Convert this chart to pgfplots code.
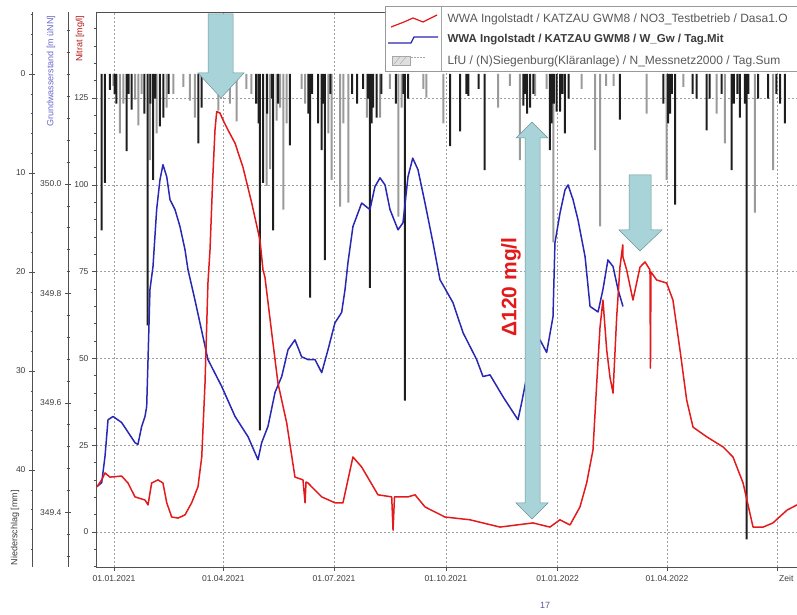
\documentclass[border=0pt]{standalone}
\usepackage{pgfplots}
\pgfplotsset{compat=1.18}
\usepackage{fontspec}
\setmainfont{Liberation Sans}
\definecolor{nred}{HTML}{E31A1C}
\definecolor{gwblue}{HTML}{2828B4}
\definecolor{arrowfill}{HTML}{A8D3D8}
\definecolor{arrowdraw}{HTML}{6F9499}
\definecolor{axgray}{HTML}{505050}
\definecolor{txtgray}{HTML}{3C3C3C}
\definecolor{bardark}{HTML}{1E1E1E}
\definecolor{barlight}{HTML}{9A9A9A}

\pgfplotsset{
  base/.style={scale only axis, width=702pt, height=555pt, at={(96pt,48pt)}, anchor=south west,
    xmin=-14.8, xmax=562.8},
  tickfont/.style={font=\fontsize{8.5}{10}\selectfont, text=txtgray},
}

\begin{document}
\begin{tikzpicture}[x=1pt,y=1pt]
\useasboundingbox (0,0) rectangle (797,615);

% ---------- main frame, grid, nitrate axis ----------
\begin{axis}[base, ymin=-10.1, ymax=149.8,
  axis x line*=box, axis y line*=left,
  axis line style={axgray, line width=0.6pt},
  xtick={0,90,181,273,365,455,546},
  xticklabels={01.01.2021,01.04.2021,01.07.2021,01.10.2021,01.01.2022,01.04.2022,{}},
  xtick pos=bottom, ytick pos=left,
  ytick={0,25,...,125}, minor ytick={-10,-5,...,145},
  tick align=outside, major tick length=4pt, minor tick length=2.5pt,
  tick style={axgray, line width=0.5pt},
  grid=major, major grid style={gray!75, line width=0.5pt, dash pattern=on 2pt off 2pt},
  xticklabel style={tickfont, yshift=-1pt},
  yticklabel style={tickfont, /pgf/number format/assume math mode=true},
]
\end{axis}

% ---------- precipitation bars ----------
\begin{axis}[base, ymin=-6.26, ymax=49.8, y dir=reverse, axis lines=none, ybar, bar width=2pt]
\addplot[draw=none, fill=barlight, bar shift=0pt] table {
-0.6 1.2
4.9 6
7.7 3
17.3 2.6
20 5.2
22.8 2
29.6 8.7
35.1 6
43.4 3.4
48.8 2
57 1.3
62.5 2.7
66.6 4.4
85.8 3.7
95.4 3
101 4.8
109 1.5
113 2
125.6 11.3
128.4 9.6
133.9 4.7
136.6 3.4
139.3 13.7
142 5
154.4 1.5
157.2 3
176.3 6
179.1 10.7
186 13.4
188.7 5
192.8 13
208 4.4
218.9 4.4
227 1.5
234 14.4
236.7 3.4
254.5 1.5
257 2.4
271 5
316 3.4
325.8 1.2
334 8.7
346.4 2.2
356 1.5
361.5 17
384.8 1.5
395.8 7.7
399.9 15.4
405 1.2
411 1.2
438.3 4
454.7 10.7
468.4 1.3
495.9 4
502.7 7
527.4 14
542.4 9.7
};
\addplot[draw=none, fill=bardark, bar shift=0pt] table {
-10.1 15.8
-7.4 11
-3.3 1.6
0.5 2
2 3
10.4 7.8
12 2
14.6 3.6
25 4
27.7 25.4
30 3
32.3 10.7
34 2.5
37.8 5.3
40.6 4.4
45 2
69.4 7
72.2 3.4
117 3
119 5
120 36
122.8 11
126 4
130 2.5
131 15.8
135 3
144.8 7.2
160 4
161.3 22.6
163 2
168 5
170.9 7.7
172 3
173.6 18.8
178 2
196 2
200 3
205 1.5
209 2.5
210.6 21.6
212 5
213.3 3.4
216 4.4
220 2
232 3
238 2
239.4 33
242 2.5
276.5 7.3
284.7 5.8
290 2
291.5 2.2
300 1.5
305 9.7
336.8 3.2
338 2
340 4
342.3 3.4
345 2
358.7 7.7
360 5
362 3
364.2 3.8
367 3.8
369 2
371 6
374 2.5
416.3 4.6
452 3
456 5
457.5 4
459 2
461.6 13.2
476 2
479.4 2.5
487.6 5.7
490 2.5
500 2
508.2 9.7
510 3
513 2
515 4.4
519 3
520.6 47
522 2
530 2.5
538.3 2.5
545 2
548 3
552 5
};
\end{axis}

% ---------- groundwater level ----------
\begin{axis}[base, ymin=349.300, ymax=350.314, axis lines=none]
\addplot[gwblue, line width=1.5pt, line join=round] table {
-14 349.447
-10.1 349.454
-7.4 349.502
-4.9 349.569
-0.8 349.575
6.3 349.564
17.3 349.527
19.7 349.524
22.8 349.557
25.5 349.575
26.9 349.593
28.0 349.679
29.6 349.807
32.1 349.849
35.1 349.953
37.8 350.007
40.3 350.035
43.4 350.013
46.1 349.971
50.2 349.953
54.3 349.922
58.4 349.880
60.9 349.843
66.6 349.788
77.3 349.679
88.6 349.630
99.6 349.575
110.3 349.538
118.5 349.496
121.5 349.527
126.7 349.557
132.5 349.619
138.0 349.648
143.2 349.697
148.9 349.715
154.4 349.684
159.6 349.679
165.4 349.679
170.9 349.655
176.1 349.697
181.8 349.746
187.3 349.765
190.1 349.807
192.5 349.856
196.6 349.922
203.8 349.965
210.6 349.953
214.7 349.995
218.9 350.011
223.0 349.998
227.1 349.953
233.7 349.916
237.8 349.929
241.9 350.013
245.8 350.047
250.1 350.026
255.9 349.965
262.5 349.892
268.2 349.825
278.9 349.783
287.2 349.728
298.4 349.679
303.6 349.648
309.4 349.651
320.1 349.611
332.4 349.569
335.4 349.600
339.6 349.648
350.5 349.715
356.0 349.692
361.2 349.757
362.8 349.892
367.0 349.947
371.1 349.989
373.6 349.998
377.7 349.971
381.8 349.934
387.6 349.867
391.7 349.776
398.3 349.766
402.3 349.807
406.4 349.861
410.6 349.849
414.7 349.807
418.8 349.776
};
\end{axis}

% ---------- nitrate ----------
\begin{axis}[base, ymin=-10.1, ymax=149.8, axis lines=none]
\addplot[nred, line width=1.5pt, line join=round] table {
-14.0 13.0
-10.1 15.0
-7.4 17.0
-3.3 15.8
6.3 16.1
11.5 14.1
17.3 10.1
25.5 9.2
28.0 7.8
31.0 14.1
36.2 15.0
40.3 14.1
43.4 8.4
47.5 4.3
52.7 4.0
58.4 4.9
63.9 8.4
69.1 13.0
72.2 21.6
74.9 42.9
77.3 71.7
79.0 81.2
81.2 101.4
83.1 115.8
84.5 121.1
87.2 120.7
89.7 118.7
93.8 115.8
99.6 112.0
106.1 105.1
113.3 94.8
120.1 84.1
122.6 75.5
124.2 73.4
129.8 57.3
134.9 42.9
142.1 31.4
148.9 15.8
155.5 15.0
157.2 8.4
158.0 14.4
159.6 14.1
170.9 10.1
181.8 8.4
188.4 8.4
196.6 21.6
203.8 18.7
217.2 10.7
228.5 10.1
229.6 0.5
230.8 10.1
241.9 10.1
247.7 10.7
255.9 7.2
272.3 4.3
292.9 3.5
317.6 1.4
344.7 2.6
358.7 1.4
366.9 3.5
375.2 2.0
383.4 7.2
388.9 14.1
394.1 23.6
397.2 42.9
399.9 59.0
402.3 66.8
405.4 52.4
408.1 44.6
410.6 40.0
413.6 61.9
416.3 76.3
418.6 82.7
418.8 79.2
421.8 75.5
427.0 66.8
432.8 76.3
436.9 77.8
441.0 75.5
441.4 47.2
441.8 74.9
446.5 72.6
454.7 71.7
459.9 66.8
465.7 52.4
471.2 38.0
476.4 30.2
487.7 27.4
501.1 24.5
509.3 21.6
517.6 14.1
525.8 1.4
534.1 1.4
542.2 2.6
553.8 6.3
562.0 7.8
};
\end{axis}

% ---------- groundwater axis (offset) ----------
\begin{axis}[scale only axis, width=1pt, height=555pt, at={(68pt,48pt)}, anchor=south west,
  xmin=0, xmax=1, ymin=349.300, ymax=350.314,
  axis x line=none, axis y line*=left, axis line style={axgray, line width=0.6pt},
  ytick={349.4,349.6,349.8,350.0}, minor ytick={349.32,349.36,...,350.30},
  tick align=center, major tick length=6pt, minor tick length=3pt,
  tick style={axgray, line width=0.5pt}, scaled y ticks=false,
  yticklabel style={tickfont, /pgf/number format/assume math mode=true,
    /pgf/number format/.cd, fixed, fixed zerofill, precision=1},
]
\end{axis}

% ---------- precipitation axis (offset) ----------
\begin{axis}[scale only axis, width=1pt, height=555pt, at={(32pt,48pt)}, anchor=south west,
  xmin=0, xmax=1, ymin=-6.26, ymax=49.8, y dir=reverse,
  axis x line=none, axis y line*=left, axis line style={axgray, line width=0.6pt},
  ytick={0,10,20,30,40}, minor ytick={-6,-4,...,48},
  tick align=center, major tick length=6pt, minor tick length=3pt,
  tick style={axgray, line width=0.5pt},
  yticklabel style={tickfont, /pgf/number format/assume math mode=true},
]
\end{axis}

% ---------- axis titles ----------
\node[rotate=90, anchor=east, font=\fontsize{9}{10}\selectfont, text=gwblue!70] at (51,603) {Grundwasserstand [m üNN]};
\node[rotate=90, anchor=east, font=\fontsize{9}{10}\selectfont, text=nred!80!black] at (80,603) {Nitrat [mg/l]};
\node[rotate=90, anchor=west, font=\fontsize{9}{10}\selectfont, text=txtgray] at (15,46) {Niederschlag [mm]};
\node[anchor=west, font=\fontsize{8.5}{10}\selectfont, text=txtgray, inner sep=1pt] at (778,37) {Zeit};

% ---------- arrows ----------
\filldraw[fill=arrowfill, draw=arrowdraw, line width=0.5pt]
  (208,601) -- (233,601) -- (233,542) -- (244,542) -- (221,517) -- (198,542) -- (208,542) -- cycle;
\filldraw[fill=arrowfill, draw=arrowdraw, line width=0.5pt]
  (532,493) -- (548,477) -- (540,477) -- (540,112) -- (548,112) -- (532,96) -- (516,112) -- (525,112) -- (525,477) -- (516,477) -- cycle;
\filldraw[fill=arrowfill, draw=arrowdraw, line width=0.5pt]
  (629,440) -- (651,440) -- (651,385) -- (662,385) -- (640,364) -- (619,385) -- (629,385) -- cycle;
\node[rotate=90, font=\bfseries\fontsize{21}{24}\selectfont, text=nred] at (511,328) {Δ120 mg/l};

% ---------- legend ----------
\filldraw[fill=white, draw=gray!80, line width=0.8pt] (385,609) rectangle (800,544);
\draw[gray!70, line width=0.5pt] (441,609) -- (441,544);
\draw[nred, line width=1.2pt, line join=round] (391,588) -- (404,593) -- (413,597) -- (423,593) -- (437,600);
\draw[gwblue, line width=1.3pt] (388,572) -- (411,572) -- (414,578) -- (438,578);
\filldraw[fill=gray!25, draw=gray!70, line width=0.5pt] (392,550) rectangle (410,559);
\draw[gray!70, line width=0.4pt] (394,551) -- (400,558) (400,551) -- (406,558);
\draw[gray!70, line width=0.8pt, dash pattern=on 2pt off 1pt] (411,558) -- (426,558);
\node[anchor=west, font=\fontsize{12}{14}\selectfont, text=txtgray!85] at (444,596) {WWA Ingolstadt / KATZAU GWM8 / NO3\_Testbetrieb / Dasa1.O};
\node[anchor=west, font=\bfseries\fontsize{11.5}{14}\selectfont, text=txtgray] at (444,575) {WWA Ingolstadt / KATZAU GWM8 / W\_Gw / Tag.Mit};
\node[anchor=west, font=\fontsize{12}{14}\selectfont, text=txtgray!85] at (444,554) {LfU / (N)Siegenburg(Kläranlage) / N\_Messnetz2000 / Tag.Sum};

% page number
\node[font=\fontsize{9}{10}\selectfont, text=gwblue!50!gray] at (545,10) {17};
\end{tikzpicture}
\end{document}
